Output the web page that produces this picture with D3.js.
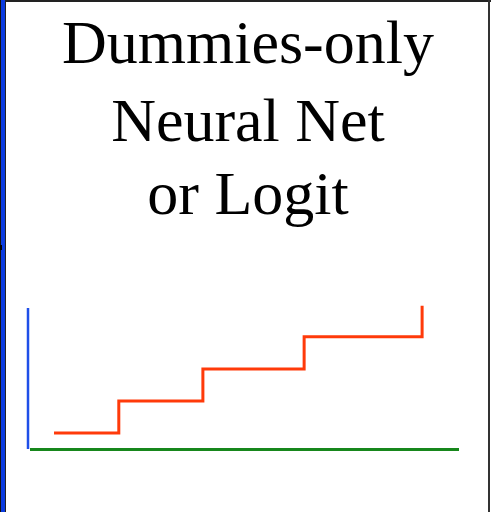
<!DOCTYPE html>
<html>
<head>
<meta charset="utf-8">
<script src="https://cdn.jsdelivr.net/npm/d3@7"></script>
<style>
  body { margin: 0; background: #fff; }
</style>
</head>
<body>
<script>
const w = 491;
const h = 512;

// title lines
const titleLines = ["Dummies-only", "Neural Net", "or Logit"];
const titleBaselines = [63.3, 140.7, 214];

// step function: breakpoints (x) and levels (y)
const stepX = [5.6, 20.7, 40.3, 63.9, 91.4];
const stepY = [0.5, 1.5, 2.5, 3.5, 4.47];

const svg = d3
	.select("body")
	.append("svg")
	.attr("width", w)
	.attr("height", h);

svg.append("rect").attr("width", w).attr("height", h).attr("fill", "#fff");

// * FRAME (slide edges)
svg.append("rect").attr("x", 0).attr("y", 0).attr("width", 1).attr("height", h).attr("fill", "#111");
svg.append("rect").attr("x", 1).attr("y", 0).attr("width", 4).attr("height", h).attr("fill", "#0a3be0");
svg.append("rect").attr("x", 5).attr("y", 0).attr("width", 1).attr("height", h).attr("fill", "#222");
svg.append("rect").attr("x", 5).attr("y", 0).attr("width", w - 5).attr("height", 2).attr("fill", "#222");
svg.append("rect").attr("x", 488).attr("y", 0).attr("width", 2).attr("height", h).attr("fill", "#333");
svg.append("rect").attr("x", 0).attr("y", 245).attr("width", 2).attr("height", 5).attr("fill", "#000");

// * TITLE
svg.append("g")
	.selectAll("text")
	.data(titleLines)
	.enter()
	.append("text")
	.attr("x", 248)
	.attr("y", (d, i) => titleBaselines[i])
	.attr("text-anchor", "middle")
	.attr("font-family", "'Liberation Serif', 'Times New Roman', serif")
	.attr("font-size", 62)
	.attr("fill", "#000")
	.text((d) => d);

// * SCALES
const xScale = d3.scaleLinear().domain([0, 100]).range([30, 459]);
const yScale = d3.scaleLinear().domain([0, 4.4]).range([449, 308]);

// * AXES (plain lines)
svg.append("line")
	.attr("x1", 28).attr("x2", 28)
	.attr("y1", yScale(0)).attr("y2", yScale(4.4))
	.attr("stroke", "#1f4fe8")
	.attr("stroke-width", 2.5);

svg.append("line")
	.attr("x1", xScale(0)).attr("x2", xScale(100))
	.attr("y1", yScale(0) + 0.5).attr("y2", yScale(0) + 0.5)
	.attr("stroke", "#17871c")
	.attr("stroke-width", 3);

// * STEP LINE
const steps = stepX.map((x, i) => ({ x: x, y: stepY[i] }));
const line = d3
	.line()
	.x((d) => xScale(d.x))
	.y((d) => yScale(d.y))
	.curve(d3.curveStepAfter);

svg.append("path")
	.datum(steps)
	.attr("d", line)
	.attr("fill", "none")
	.attr("stroke", "#ff3a0a")
	.attr("stroke-width", 3);
</script>
</body>
</html>
